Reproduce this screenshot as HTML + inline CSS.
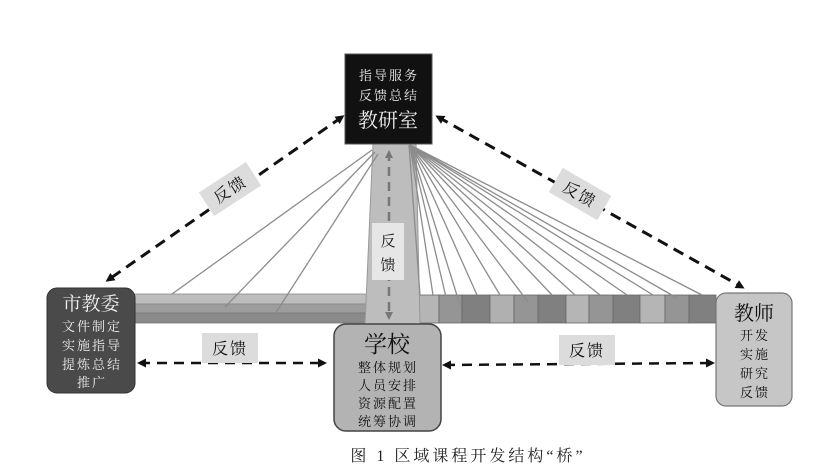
<!DOCTYPE html>
<html><head><meta charset="utf-8"><style>
body{margin:0;background:#fff;}
svg{display:block;}
text{font-family:"Liberation Serif","Noto Serif CJK SC","Noto Sans CJK SC",serif;}
.s{letter-spacing:2px;}
</style></head><body>
<svg width="834" height="470" viewBox="0 0 834 470" xmlns="http://www.w3.org/2000/svg">
<defs>
<marker id="ah" markerWidth="9" markerHeight="9" refX="6" refY="4.5" orient="auto-start-reverse" markerUnits="userSpaceOnUse">
<path d="M0,0 L9,4.5 L0,9 Z" fill="#111"/></marker>
<marker id="ag" markerWidth="8" markerHeight="8" refX="6" refY="4" orient="auto-start-reverse" markerUnits="userSpaceOnUse">
<path d="M0,0 L8,4 L0,8 Z" fill="#777"/></marker>
</defs>
<rect width="834" height="470" fill="#fff"/>
<rect x="132" y="294" width="236" height="10" fill="#bdbdbd" stroke="#888" stroke-width="0.8"/>
<rect x="132" y="304" width="236" height="9" fill="#9d9d9d" stroke="#888" stroke-width="0.8"/>
<rect x="132" y="313" width="236" height="10" fill="#8a8a8a" stroke="#777" stroke-width="0.8"/>
<g stroke="#666" stroke-width="0.8">
<rect x="417" y="295" width="22" height="28" fill="#b5b5b5"/>
<rect x="439" y="295" width="23" height="28" fill="#959595"/>
<rect x="462" y="295" width="28" height="28" fill="#808080"/>
<rect x="490" y="295" width="24" height="28" fill="#b0b0b0"/>
<rect x="514" y="295" width="24" height="28" fill="#959595"/>
<rect x="538" y="295" width="28" height="28" fill="#808080"/>
<rect x="566" y="295" width="23" height="28" fill="#b5b5b5"/>
<rect x="589" y="295" width="24" height="28" fill="#959595"/>
<rect x="613" y="295" width="27" height="28" fill="#808080"/>
<rect x="640" y="295" width="25" height="28" fill="#b5b5b5"/>
<rect x="665" y="295" width="24" height="28" fill="#959595"/>
<rect x="689" y="295" width="27" height="28" fill="#808080"/>
</g>
<polygon points="373,144 416,144 420,325 365,325" fill="#bdbdbd" stroke="#999" stroke-width="1"/>
<g stroke="#8c8c8c" stroke-width="1.3">
<line x1="372" y1="150" x2="172" y2="294"/>
<line x1="375" y1="152" x2="225" y2="307"/>
<line x1="378" y1="154" x2="275" y2="314"/>
<line x1="409" y1="145" x2="420" y2="295"/>
<line x1="410" y1="145" x2="433" y2="295"/>
<line x1="410" y1="145" x2="446" y2="297"/>
<line x1="410" y1="145" x2="460" y2="305"/>
<line x1="410" y1="145" x2="477" y2="295"/>
<line x1="410" y1="145" x2="500" y2="295"/>
<line x1="410" y1="145" x2="528" y2="302"/>
<line x1="410" y1="145" x2="552" y2="295"/>
<line x1="410" y1="145" x2="575" y2="295"/>
<line x1="410" y1="145" x2="600" y2="295"/>
<line x1="410" y1="145" x2="627" y2="295"/>
<line x1="410" y1="145" x2="653" y2="295"/>
<line x1="410" y1="145" x2="677" y2="298"/>
<line x1="410" y1="145" x2="702" y2="295"/>
</g>
<line x1="389" y1="152" x2="389" y2="318" stroke="#777" stroke-width="2.5" stroke-dasharray="9,6" marker-start="url(#ag)" marker-end="url(#ag)"/>
<rect x="372" y="223" width="32" height="57" fill="#e6e6e6"/>
<text x="388" y="246" font-size="15" text-anchor="middle" fill="#111">反</text>
<text x="388" y="270" font-size="15" text-anchor="middle" fill="#111">馈</text>
<line x1="342" y1="117" x2="108" y2="280" stroke="#111" stroke-width="3" stroke-dasharray="11,7" marker-start="url(#ah)" marker-end="url(#ah)"/>
<line x1="438" y1="117" x2="742" y2="287" stroke="#111" stroke-width="3" stroke-dasharray="11,7" marker-start="url(#ah)" marker-end="url(#ah)"/>
<g transform="translate(230,189) rotate(-33)">
<rect x="-28" y="-14" width="56" height="28" fill="#dcdcdc"/>
<text x="0" y="6" font-size="16" text-anchor="middle" fill="#111" class="s">反馈</text></g>
<g transform="translate(580,194) rotate(30)">
<rect x="-28" y="-14" width="56" height="28" fill="#dcdcdc"/>
<text x="0" y="6" font-size="16" text-anchor="middle" fill="#111" class="s">反馈</text></g>
<line x1="140" y1="363" x2="324" y2="363" stroke="#111" stroke-width="2.5" stroke-dasharray="10,7" marker-start="url(#ah)" marker-end="url(#ah)"/>
<line x1="445" y1="365" x2="712" y2="363" stroke="#111" stroke-width="2.5" stroke-dasharray="10,7" marker-start="url(#ah)" marker-end="url(#ah)"/>
<rect x="202" y="333" width="56" height="30" fill="#dcdcdc"/>
<text x="230" y="354" font-size="16" text-anchor="middle" fill="#111" class="s">反馈</text>
<rect x="559" y="335" width="56" height="30" fill="#dcdcdc"/>
<text x="587" y="356" font-size="16" text-anchor="middle" fill="#111" class="s">反馈</text>
<rect x="345" y="54" width="87" height="90" fill="#111" stroke="#555" stroke-width="1"/>
<text x="389" y="80" font-size="13" text-anchor="middle" fill="#eee" class="s">指导服务</text>
<text x="389" y="100" font-size="13" text-anchor="middle" fill="#eee" class="s">反馈总结</text>
<text x="388" y="127" font-size="20" text-anchor="middle" fill="#eee" font-family="Liberation Sans,Noto Sans CJK SC,sans-serif">教研室</text>
<rect x="47" y="288" width="88" height="105" rx="10" fill="#4a4a4a" stroke="#333" stroke-width="1"/>
<text x="91" y="310" font-size="19" text-anchor="middle" fill="#eee" font-family="Liberation Sans,Noto Sans CJK SC,sans-serif">市教委</text>
<text x="92" y="331" font-size="13" text-anchor="middle" fill="#eee" class="s">文件制定</text>
<text x="92" y="350" font-size="13" text-anchor="middle" fill="#eee" class="s">实施指导</text>
<text x="92" y="369" font-size="13" text-anchor="middle" fill="#eee" class="s">提炼总结</text>
<text x="92" y="387" font-size="13" text-anchor="middle" fill="#eee" class="s">推广</text>
<rect x="334" y="324" width="107" height="107" rx="12" fill="#b3b3b3" stroke="#444" stroke-width="1.5"/>
<text x="387" y="352" font-size="23" text-anchor="middle" fill="#111" font-family="Liberation Sans,Noto Sans CJK SC,sans-serif">学校</text>
<text x="388" y="372" font-size="13" text-anchor="middle" fill="#111" class="s">整体规划</text>
<text x="388" y="390" font-size="13" text-anchor="middle" fill="#111" class="s">人员安排</text>
<text x="388" y="408" font-size="13" text-anchor="middle" fill="#111" class="s">资源配置</text>
<text x="388" y="426" font-size="13" text-anchor="middle" fill="#111" class="s">统筹协调</text>
<rect x="716" y="293" width="76" height="113" rx="10" fill="#c6c6c6" stroke="#777" stroke-width="1.2"/>
<text x="754" y="320" font-size="20" text-anchor="middle" fill="#111" font-family="Liberation Sans,Noto Sans CJK SC,sans-serif">教师</text>
<text x="755" y="340" font-size="13" text-anchor="middle" fill="#111" class="s">开发</text>
<text x="755" y="359" font-size="13" text-anchor="middle" fill="#111" class="s">实施</text>
<text x="755" y="378" font-size="13" text-anchor="middle" fill="#111" class="s">研究</text>
<text x="755" y="397" font-size="13" text-anchor="middle" fill="#111" class="s">反馈</text>
<text x="468" y="461" font-size="16" text-anchor="middle" fill="#222" letter-spacing="3">图 1 区域课程开发结构“桥”</text>
</svg>
</body></html>
